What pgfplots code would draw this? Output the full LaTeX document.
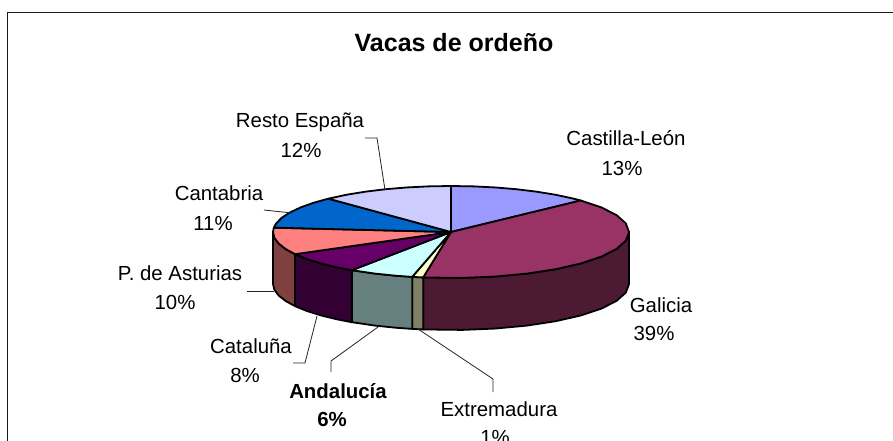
\documentclass[border=0pt]{standalone}
\usepackage{pgfplots}
\pgfplotsset{compat=1.18}
\usepackage{fontspec}
\setmainfont{Liberation Sans}
\definecolor{cleon}{HTML}{9999FF}
\definecolor{galicia}{HTML}{993366}
\definecolor{extrem}{HTML}{FFFFCC}
\definecolor{andal}{HTML}{CCFFFF}
\definecolor{catal}{HTML}{660066}
\definecolor{astur}{HTML}{FF8080}
\definecolor{cantab}{HTML}{0066CC}
\definecolor{resto}{HTML}{CCCCFF}
\definecolor{galiciad}{HTML}{4D1A33}
\definecolor{extremd}{HTML}{808066}
\definecolor{andald}{HTML}{668080}
\definecolor{catald}{HTML}{330033}
\definecolor{asturd}{HTML}{804040}
\definecolor{leader}{HTML}{222222}
% p = cumulative share (%), r = 0 at the centre / 1 on the rim, z = 1 on the lower rim
\newcommand{\slice}[2]{\addplot[fill=#1, draw=black, line width=1.8pt, line join=round]
  table[row sep=\\, x expr={451+\thisrow{r}*178*sin(3.6*\thisrow{p})},
        y expr={232-\thisrow{r}*46*cos(3.6*\thisrow{p})+\thisrow{z}*52}] {p r z\\ #2} -- cycle;}
\newcommand{\lbl}[4]{\node[font=\fontsize{20.4}{24}\selectfont #4] at (axis cs:#1,#2) {#3};}
\begin{document}
\begin{tikzpicture}
\useasboundingbox (0,0) rectangle (893pt,441pt);
\begin{axis}[
  scale only axis, width=893pt, height=441pt,
  xmin=0, xmax=893, ymin=0, ymax=441, y dir=reverse,
  hide axis, clip=true]

% frame
\addplot[draw=black!90, line width=1.6pt] coordinates {(7.5,460) (7.5,12.5) (900,12.5)};

% side walls
\slice{galiciad}{25 1 0\\ 28 1 0\\ 31 1 0\\ 34 1 0\\ 37 1 0\\ 40 1 0\\ 43 1 0\\ 46 1 0\\ 49 1 0\\ 52.5 1 0\\ 52.5 1 1\\ 49 1 1\\ 46 1 1\\ 43 1 1\\ 40 1 1\\ 37 1 1\\ 34 1 1\\ 31 1 1\\ 28 1 1\\ 25 1 1\\}
\slice{extremd}{52.5 1 0\\ 53.5 1 0\\ 53.5 1 1\\ 52.5 1 1\\}
\slice{andald}{53.5 1 0\\ 55 1 0\\ 57 1 0\\ 59.4 1 0\\ 59.4 1 1\\ 57 1 1\\ 55 1 1\\ 53.5 1 1\\}
\slice{catald}{59.4 1 0\\ 61 1 0\\ 63 1 0\\ 65 1 0\\ 67 1 0\\ 67 1 1\\ 65 1 1\\ 63 1 1\\ 61 1 1\\ 59.4 1 1\\}
\slice{asturd}{67 1 0\\ 69 1 0\\ 71 1 0\\ 73 1 0\\ 75 1 0\\ 75 1 1\\ 73 1 1\\ 71 1 1\\ 69 1 1\\ 67 1 1\\}

% top face
\slice{cleon}{0 0 0\\ 0 1 0\\ 2 1 0\\ 4 1 0\\ 6 1 0\\ 8 1 0\\ 10 1 0\\ 12 1 0\\ 13 1 0\\}
\slice{galicia}{0 0 0\\ 13 1 0\\ 16 1 0\\ 19 1 0\\ 22 1 0\\ 25 1 0\\ 28 1 0\\ 31 1 0\\ 34 1 0\\ 37 1 0\\ 40 1 0\\ 43 1 0\\ 46 1 0\\ 49 1 0\\ 52.5 1 0\\}
\slice{extrem}{0 0 0\\ 52.5 1 0\\ 53.5 1 0\\}
\slice{andal}{0 0 0\\ 53.5 1 0\\ 55 1 0\\ 57 1 0\\ 59.4 1 0\\}
\slice{catal}{0 0 0\\ 59.4 1 0\\ 61 1 0\\ 63 1 0\\ 65 1 0\\ 67 1 0\\}
\slice{astur}{0 0 0\\ 67 1 0\\ 69 1 0\\ 71 1 0\\ 73 1 0\\ 75 1 0\\ 76.5 1 0\\}
\slice{cantab}{0 0 0\\ 76.5 1 0\\ 78 1 0\\ 80 1 0\\ 82 1 0\\ 84 1 0\\ 86 1 0\\ 87.9 1 0\\}
\slice{resto}{0 0 0\\ 87.9 1 0\\ 90 1 0\\ 92 1 0\\ 94 1 0\\ 96 1 0\\ 98 1 0\\ 100 1 0\\}

% leader lines
\addplot[draw=leader, line width=0.8pt] coordinates {(365,138) (377,138) (385,190)};
\addplot[draw=leader, line width=0.8pt] coordinates {(264,210) (292,213)};
\addplot[draw=leader, line width=0.8pt] coordinates {(247,291) (274,291)};
\addplot[draw=leader, line width=0.8pt] coordinates {(293,363) (305,363) (317,316)};
\addplot[draw=leader, line width=0.8pt] coordinates {(331,372) (331,361) (378,327)};
\addplot[draw=leader, line width=0.8pt] coordinates {(493,392) (493,379) (418,329)};

% texts
\node[font=\fontsize{25}{29}\selectfont\bfseries] at (axis cs:454,43) {Vacas de ordeño};
\lbl{626}{138}{Castilla-León}{}
\lbl{622}{168}{13\%}{}
\lbl{661}{305}{Galicia}{}
\lbl{654}{333}{39\%}{}
\lbl{499}{409}{Extremadura}{}
\lbl{495}{437}{1\%}{}
\lbl{338}{391}{Andalucía}{\bfseries}
\lbl{332}{419}{6\%}{\bfseries}
\lbl{251}{346}{Cataluña}{}
\lbl{245}{375}{8\%}{}
\lbl{180}{273}{P. de Asturias}{}
\lbl{175}{302}{10\%}{}
\lbl{219}{193}{Cantabria}{}
\lbl{213}{223}{11\%}{}
\lbl{300}{122}{Resto España}{}
\lbl{301}{150}{12\%}{}
\end{axis}
\end{tikzpicture}
\end{document}
